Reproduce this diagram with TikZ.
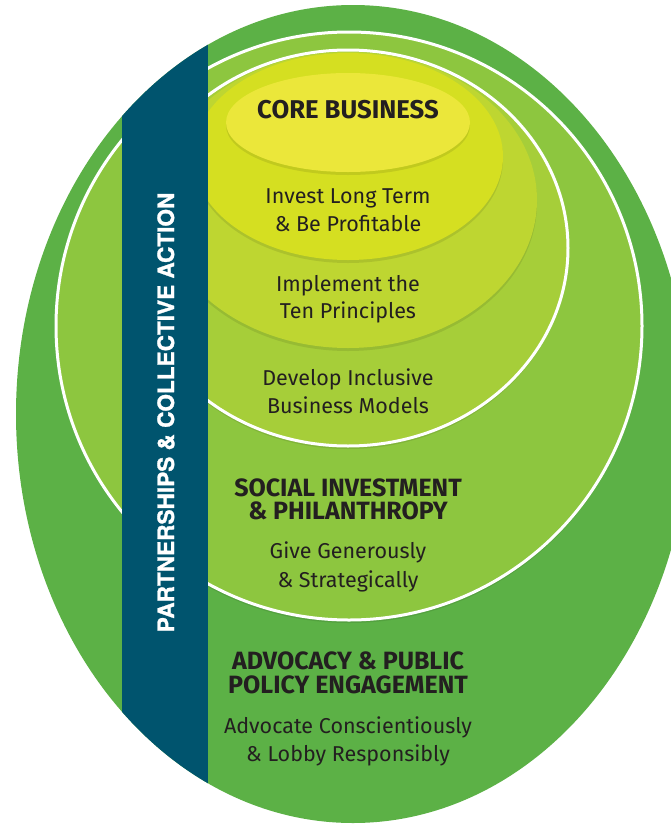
\documentclass[tikz,border=0pt]{standalone}
\usepackage{fontspec}
\setmainfont{Fira Sans}
\newfontfamily\barfont[FakeBold=1.2]{texgyreheros-bold.otf}
\definecolor{outergreen}{RGB}{92,177,70}
\definecolor{ringgreen}{RGB}{141,198,63}
\definecolor{modelgreen}{RGB}{166,206,57}
\definecolor{tengreen}{RGB}{190,214,49}
\definecolor{investgreen}{RGB}{213,223,33}
\definecolor{coreyellow}{RGB}{235,231,58}
\definecolor{barblue}{RGB}{0,84,110}
\definecolor{inktext}{RGB}{35,31,32}
\tikzset{
  heading/.style={anchor=base, text=inktext, font=\bfseries\fontsize{25}{30}\selectfont},
  corehead/.style={heading, font=\bfseries\fontsize{25.7}{30}\selectfont},
  bodytext/.style={anchor=base, text=inktext, font=\fontsize{21.5}{26}\selectfont},
  layershade/.style={fill=black, opacity=.09},
  barlabel/.style={rotate=90, anchor=base, text=white, font=\barfont\fontsize{22.6}{28}\selectfont}
}

\begin{document}
\begin{tikzpicture}[x=1pt, y=-1pt]
    \useasboundingbox (0,0) rectangle (671,825);
    \clip (0,0) rectangle (671,825);

    \fill[outergreen] (353,414) ellipse [x radius=337, y radius=409];
    \fill[layershade] (349,329) ellipse [x radius=293, y radius=294];
    \filldraw[fill=ringgreen, draw=white, line width=3pt] (349,326) ellipse [x radius=293, y radius=294];
    \fill[layershade] (348,251) ellipse [x radius=220, y radius=198];
    \filldraw[fill=modelgreen, draw=white, line width=3pt] (348,248) ellipse [x radius=220, y radius=198];

    \foreach \cy/\rx/\ry/\col in {200/189/148/tengreen, 156.5/155/103.5/investgreen, 122.5/122/49.5/coreyellow} {
        \fill[layershade] (348,\cy+3) ellipse [x radius=\rx, y radius=\ry];
        \fill[\col] (348,\cy) ellipse [x radius=\rx, y radius=\ry];
    }

    \begin{scope}
        \clip (353,414) ellipse [x radius=337, y radius=409];
        \fill[barblue] (122,0) rectangle (208,825);
    \end{scope}

    \node[corehead] (core) at (348,118) {CORE BUSINESS};
    \node[bodytext] (invest1) at (348,203) {Invest Long Term};
    \node[bodytext] (invest2) at (348,231) {\& Be Profitable};
    \node[bodytext] (ten1) at (348,291) {Implement the};
    \node[bodytext] (ten2) at (348,318) {Ten Principles};
    \node[bodytext] (model1) at (348,385) {Develop Inclusive};
    \node[bodytext] (model2) at (348,413) {Business Models};

    \node[heading] (social1) at (348,496) {SOCIAL INVESTMENT};
    \node[heading] (social2) at (348,519) {\& PHILANTHROPY};
    \node[bodytext] (give1) at (348,558) {Give Generously};
    \node[bodytext] (give2) at (348,587) {\& Strategically};

    \node[heading] (advocacy1) at (348,669) {ADVOCACY \& PUBLIC};
    \node[heading] (advocacy2) at (348,693) {POLICY ENGAGEMENT};
    \node[bodytext] (lobby1) at (348,733) {Advocate Conscientiously};
    \node[bodytext] (lobby2) at (348,761) {\& Lobby Responsibly};

    \node[barlabel] (partners) at (174,412.5) {PARTNERSHIPS \& COLLECTIVE ACTION};
\end{tikzpicture}
\end{document}
